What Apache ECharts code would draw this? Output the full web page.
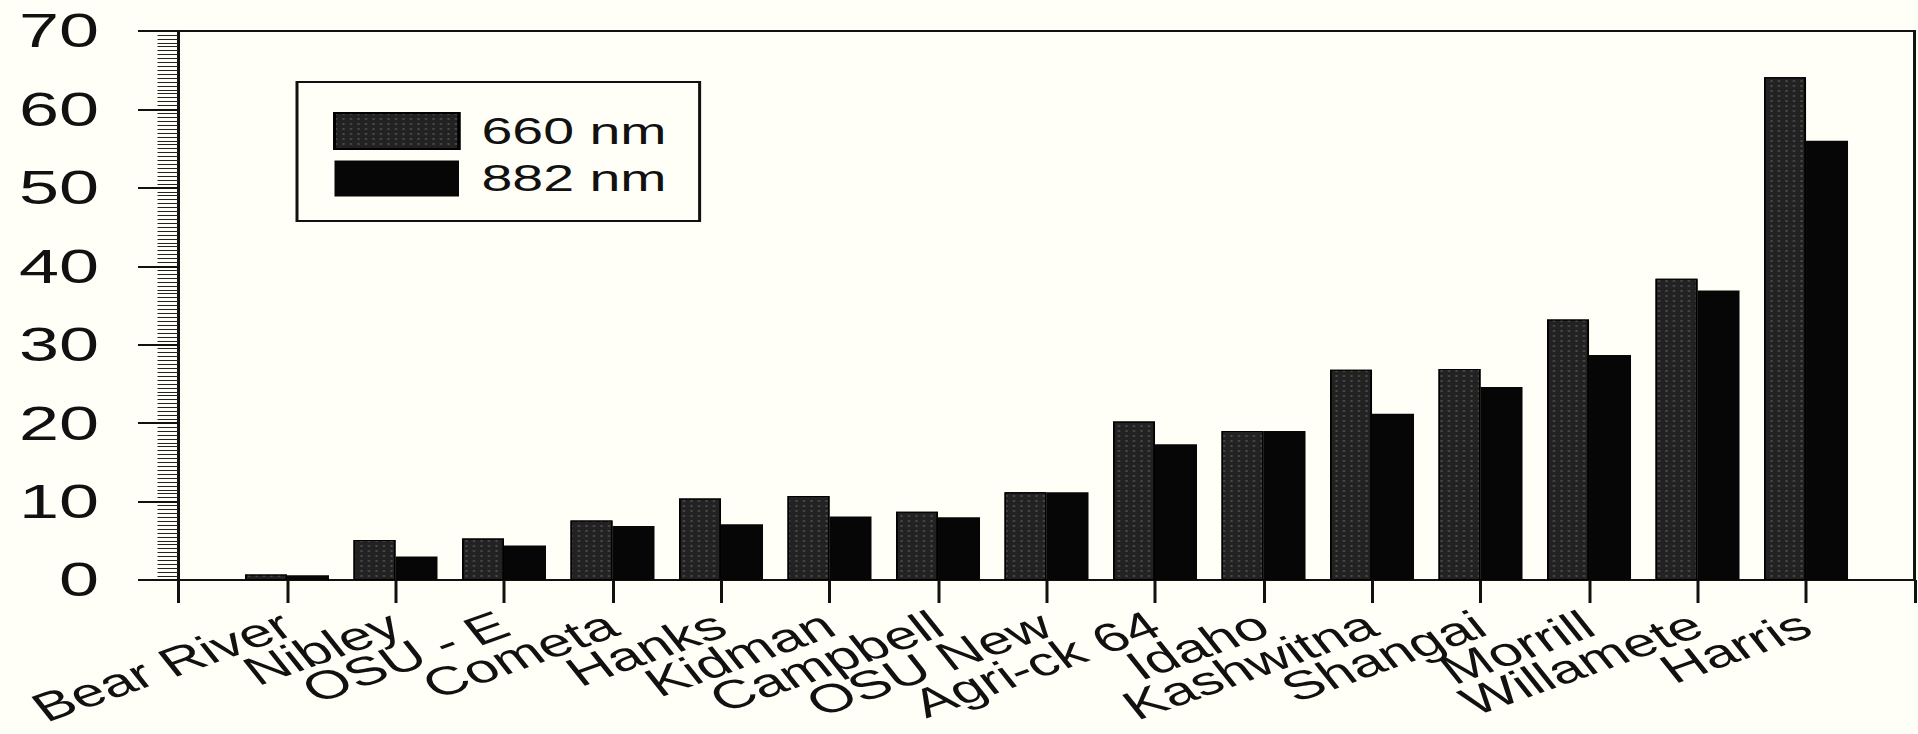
<!DOCTYPE html>
<html>
<head>
<meta charset="utf-8">
<script src="https://cdn.jsdelivr.net/npm/echarts@6/dist/echarts.min.js"></script>
<style>
  html, body { margin: 0; padding: 0; background: #fffff7; overflow: hidden; }
  /* the scanned figure is stretched sideways, so the chart is drawn narrow and widened 1.5x */
  #barChart { width: 1279px; height: 734px; transform: scaleX(1.5); transform-origin: 0 0; }
</style>
</head>
<body>
<div id="barChart"></div>
<script>
// cultivars, ordered as in the figure
const cultivars = ['Bear River', 'Nibley', 'OSU - E', 'Cometa', 'Hanks', 'Kidman', 'Campbell',
  'OSU New', 'Agri-ck 64', 'Idaho', 'Kashwitna', 'Shangai', 'Morrill', 'Willamete', 'Harris'];
const values660 = [0.7, 5.1, 5.3, 7.6, 10.4, 10.7, 8.7, 11.2, 20.2, 19.0, 26.8, 26.9, 33.2, 38.4, 64.1];
const values882 = [0.6, 3.0, 4.4, 6.9, 7.1, 8.1, 8.0, 11.2, 17.3, 19.0, 21.2, 24.6, 28.7, 36.9, 56.0];
const yTicks = [0, 10, 20, 30, 40, 50, 60, 70];

// axis starts one slot left of the first cultivar and runs off the right edge
const xAxisData = [''].concat(cultivars, ['']);
const seriesData1 = [null].concat(values660);
const seriesData2 = [null].concat(values882);

const myChart = echarts.init(document.getElementById('barChart'), null, { renderer: 'svg' });
const font = 'Liberation Sans, Arial, sans-serif';
const chartOption = {
  backgroundColor: '#fffff7',
  animation: false,
  grid: {
    show: true,
    left: 119,
    top: 31,
    width: 1163,
    height: 549,
    borderColor: '#111',
    borderWidth: 2,
    backgroundColor: 'transparent'
  },
  legend: {
    orient: 'vertical',
    left: 198,
    top: 82,
    padding: [30, 22, 24, 24],
    itemGap: 10,
    itemWidth: 83,
    itemHeight: 36,
    icon: 'rect',
    borderColor: '#111',
    borderWidth: 2,
    backgroundColor: '#fffff7',
    textStyle: {
      fontFamily: font,
      fontSize: 37,
      color: '#111',
      padding: [0, 0, 0, 10]
    },
    data: ['660 nm', '882 nm']
  },
  xAxis: {
    type: 'category',
    boundaryGap: false,
    data: xAxisData,
    axisLine: { lineStyle: { color: '#111', width: 2 } },
    axisTick: { show: true, inside: false, length: 23, interval: 0, lineStyle: { color: '#111', width: 2 } },
    axisLabel: {
      interval: 0,
      rotate: 28,
      margin: 42,
      fontFamily: font,
      fontSize: 40,
      color: '#111'
    },
    splitLine: { show: false }
  },
  yAxis: {
    type: 'value',
    min: yTicks[0],
    max: yTicks[yTicks.length - 1],
    interval: 10,
    axisLine: { show: true, lineStyle: { color: '#111', width: 2 } },
    axisTick: { show: true, inside: false, length: 27, lineStyle: { color: '#111', width: 2 } },
    minorTick: { show: true, splitNumber: 20, length: 14, lineStyle: { color: '#222', width: 1 } },
    axisLabel: {
      margin: 53,
      fontFamily: font,
      fontSize: 48,
      color: '#111'
    },
    splitLine: { show: false }
  },
  series: [
    {
      name: '660 nm',
      type: 'bar',
      data: seriesData1,
      barWidth: 28,
      barGap: '0%',
      itemStyle: {
        color: '#222222',
        borderColor: '#000',
        borderWidth: 1,
        // speckled grey fill of the scanned bars
        decal: {
          symbol: 'rect',
          symbolSize: 0.7,
          color: 'rgba(150, 150, 150, 0.45)',
          dashArrayX: [2, 3],
          dashArrayY: [2, 3]
        }
      }
    },
    {
      name: '882 nm',
      type: 'bar',
      data: seriesData2,
      barWidth: 28,
      barGap: '0%',
      itemStyle: { color: '#060606' }
    }
  ]
};
myChart.setOption(chartOption);
</script>
</body>
</html>
